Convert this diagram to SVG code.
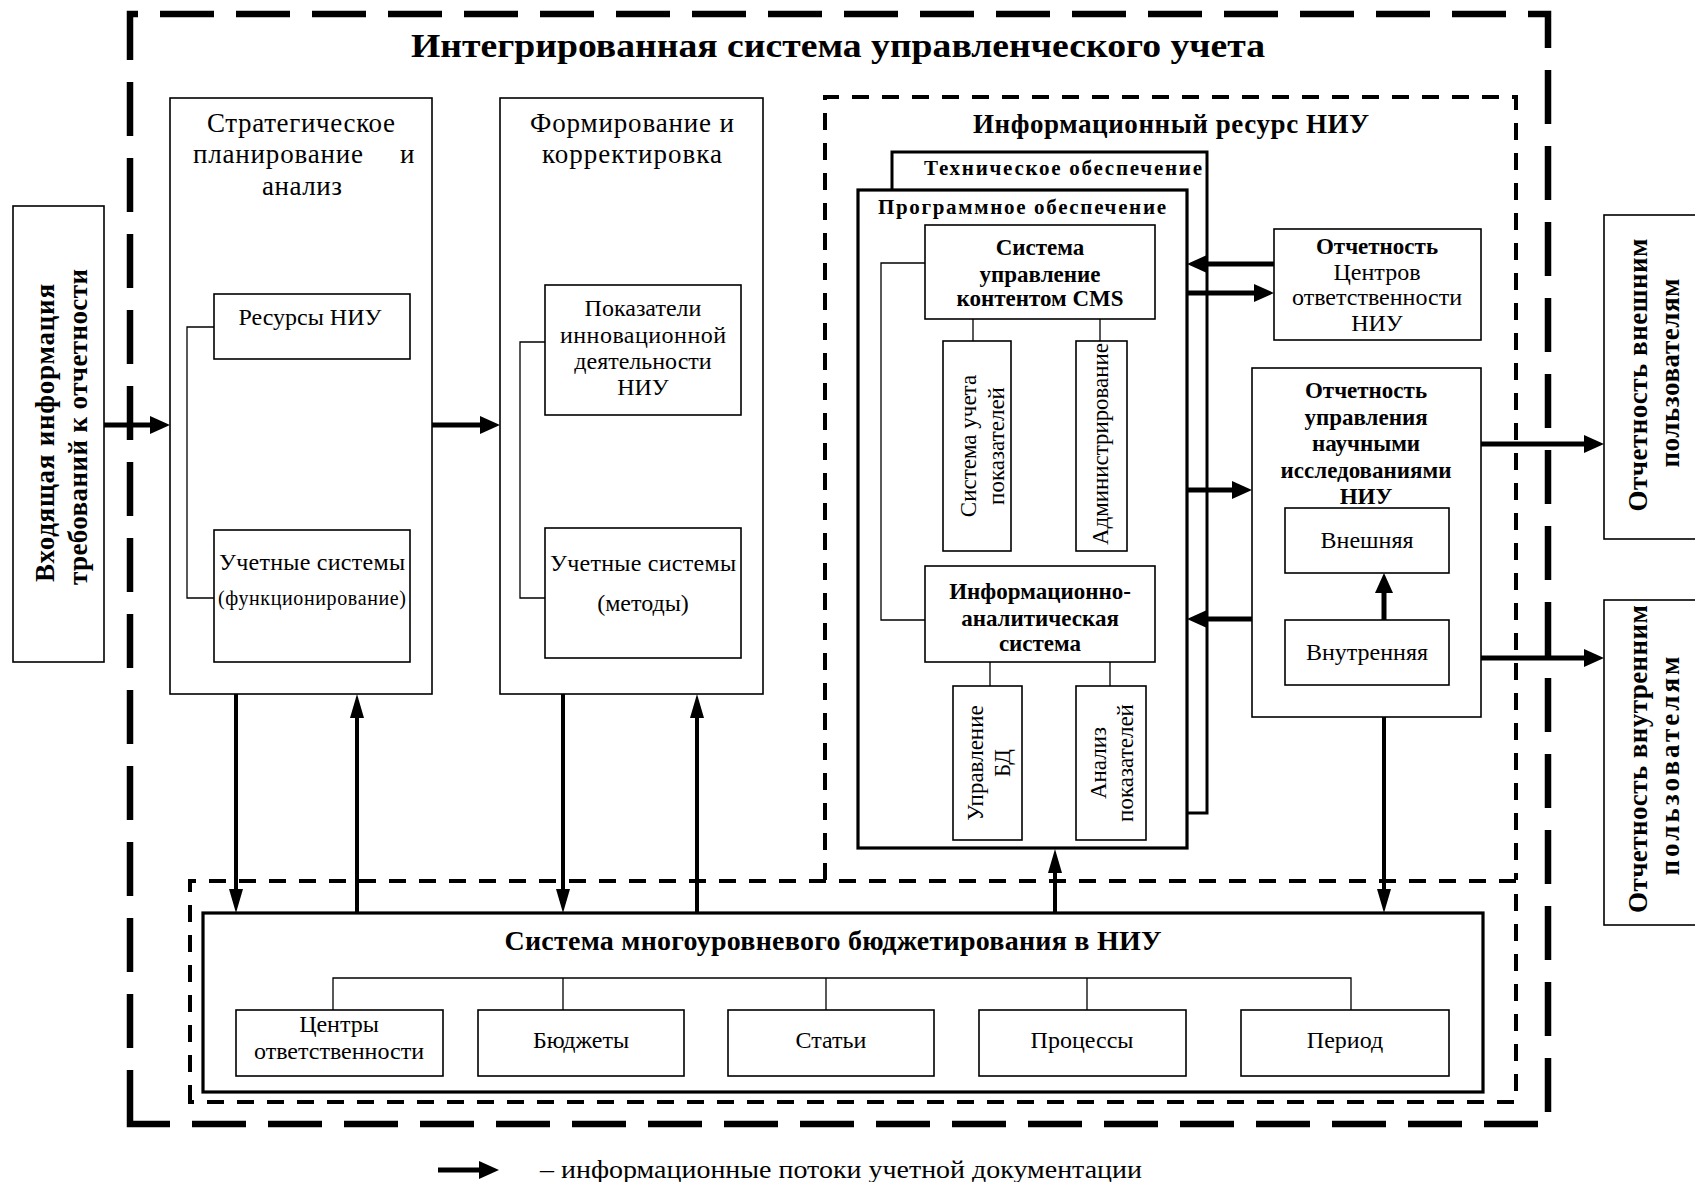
<svg xmlns="http://www.w3.org/2000/svg" width="1695" height="1182" viewBox="0 0 1695 1182">
<style>
text{font-family:"Liberation Serif","Times New Roman",serif;fill:#000}
.r{font-family:"Liberation Serif",serif;font-size:24px}
.t{font-family:"Liberation Serif",serif;font-size:27px}
.v{font-family:"Liberation Serif",serif;font-size:23px}
.b{font-weight:bold;font-size:21px}
.bx{font-weight:bold;font-size:23px}
.bb{font-weight:bold;font-size:27px}
.vb{font-weight:bold;font-size:27px}
.m{text-anchor:middle}
.box{fill:#fff;stroke:#000;stroke-width:1.6}
.thick{fill:none;stroke:#000;stroke-width:3}
.ln{fill:none;stroke:#000;stroke-width:1.3}
.outer{fill:none;stroke:#000;stroke-width:6.5;stroke-dasharray:54 22}
.dash{fill:none;stroke:#000;stroke-width:4;stroke-dasharray:17 13}
.ah{fill:none;stroke:#000;stroke-width:5;marker-end:url(#ah)}
.av{fill:none;stroke:#000;stroke-width:4;marker-end:url(#av)}
</style>
<defs>
<marker id="ah" markerUnits="userSpaceOnUse" markerWidth="20" markerHeight="18" viewBox="0 0 20 18" refX="0" refY="9" orient="auto"><path d="M0,0 L20,9 L0,18 z" fill="#000"/></marker>
<marker id="av" markerUnits="userSpaceOnUse" markerWidth="24" markerHeight="14" viewBox="0 0 24 14" refX="0" refY="7" orient="auto"><path d="M0,0 L24,7 L0,14 z" fill="#000"/></marker>
</defs>
<rect width="1695" height="1182" fill="#fff"/>

<g id="frame-outer">
<path class="outer" d="M130,1124 V14 H1548 V1124 Z"/>
<text x="838" y="57" class="m" style="font-weight:bold;font-size:33px" textLength="854" lengthAdjust="spacingAndGlyphs">Интегрированная система управленческого учета</text>
</g>

<g id="frame-info">
<path class="dash" d="M825,880 V97 H1516 V880"/>
<text x="1171" y="133" class="bb m" textLength="396">Информационный ресурс НИУ</text>
</g>

<g id="frame-budget">
<path class="dash" d="M190,1102 V881 H1516 V1102 Z"/>
</g>

<g id="input">
<rect class="box" x="13" y="206" width="91" height="456"/>
<text class="vb m" transform="translate(54,433) rotate(-90)" textLength="298">Входящая информация</text>
<text class="vb m" transform="translate(87,427) rotate(-90)" textLength="316">требований к отчетности</text>
</g>

<g id="strategic">
<rect class="box" x="170" y="98" width="262" height="596"/>
<text x="301" y="132" class="t m" textLength="188">Стратегическое</text>
<text x="193" y="163" class="t" textLength="170">планирование</text>
<text x="400" y="163" class="t">и</text>
<text x="302" y="195" class="t m" textLength="80">анализ</text>
<path class="ln" d="M214,327 H187 V598 H214"/>
<rect class="box" x="214" y="294" width="196" height="65"/>
<text x="310" y="325" class="r m">Ресурсы НИУ</text>
<rect class="box" x="214" y="530" width="196" height="132"/>
<text x="312" y="570" class="r m" textLength="186">Учетные системы</text>
<text x="312" y="605" class="m" style="font-size:20px" textLength="188">(функционирование)</text>
</g>

<g id="forming">
<rect class="box" x="500" y="98" width="263" height="596"/>
<text x="632" y="132" class="t m" textLength="204">Формирование и</text>
<text x="632" y="163" class="t m" textLength="180">корректировка</text>
<path class="ln" d="M545,342 H520 V598 H545"/>
<rect class="box" x="545" y="285" width="196" height="130"/>
<text x="643" y="316" class="r m">Показатели</text>
<text x="643" y="343" class="r m" textLength="166">инновационной</text>
<text x="643" y="369" class="r m">деятельности</text>
<text x="643" y="395" class="r m">НИУ</text>
<rect class="box" x="545" y="528" width="196" height="130"/>
<text x="643" y="571" class="r m" textLength="186">Учетные системы</text>
<text x="643" y="611" class="r m">(методы)</text>
</g>

<g id="tech">
<path class="thick" d="M892,190 V152 H1207 V813 H1187"/>
<text x="1063" y="175" class="b m" textLength="278">Техническое обеспечение</text>
</g>

<g id="software">
<rect x="858" y="190" width="329" height="658" fill="#fff" stroke="#000" stroke-width="3.2"/>
<text x="1022" y="214" class="b m" textLength="288">Программное обеспечение</text>
<path class="ln" d="M925,263 H881 V620 H925"/>
<path class="ln" d="M973,319 V341 M1100,319 V341 M990,662 V686 M1110,662 V686"/>
</g>

<g id="cms">
<rect class="box" x="925" y="225" width="230" height="94"/>
<text x="1040" y="255" class="bx m">Система</text>
<text x="1040" y="282" class="bx m">управление</text>
<text x="1040" y="306" class="bx m">контентом CMS</text>
</g>

<g id="sys-ucheta">
<rect class="box" x="943" y="341" width="68" height="210"/>
<text class="v m" transform="translate(976,446) rotate(-90)">Система учета</text>
<text class="v m" transform="translate(1004,446) rotate(-90)">показателей</text>
</g>

<g id="admin">
<rect class="box" x="1076" y="341" width="51" height="210"/>
<text class="v m" transform="translate(1108,444) rotate(-90)" textLength="202">Администрирование</text>
</g>

<g id="ias">
<rect class="box" x="925" y="566" width="230" height="96"/>
<text x="1040" y="599" class="bx m">Информационно-</text>
<text x="1040" y="626" class="bx m">аналитическая</text>
<text x="1040" y="651" class="bx m">система</text>
</g>

<g id="upr-bd">
<rect class="box" x="953" y="686" width="69" height="154"/>
<text class="v m" transform="translate(983,763) rotate(-90)">Управление</text>
<text class="v m" transform="translate(1010,763) rotate(-90)">БД</text>
</g>

<g id="analiz">
<rect class="box" x="1076" y="686" width="70" height="154"/>
<text class="v m" transform="translate(1106,763) rotate(-90)">Анализ</text>
<text class="v m" transform="translate(1133,763) rotate(-90)">показателей</text>
</g>

<g id="rep-co">
<rect class="box" x="1274" y="229" width="207" height="111"/>
<text x="1377" y="254" class="bx m">Отчетность</text>
<text x="1377" y="280" class="r m">Центров</text>
<text x="1377" y="305" class="r m">ответственности</text>
<text x="1377" y="331" class="r m">НИУ</text>
</g>

<g id="rep-science">
<rect class="box" x="1252" y="368" width="229" height="349"/>
<text x="1366" y="398" class="bx m">Отчетность</text>
<text x="1366" y="425" class="bx m">управления</text>
<text x="1366" y="451" class="bx m">научными</text>
<text x="1366" y="478" class="bx m">исследованиями</text>
<text x="1366" y="504" class="bx m">НИУ</text>
</g>

<g id="external">
<rect class="box" x="1285" y="508" width="164" height="65"/>
<text x="1367" y="548" class="r m">Внешняя</text>
</g>

<g id="internal">
<rect class="box" x="1285" y="620" width="164" height="65"/>
<text x="1367" y="660" class="r m">Внутренняя</text>
</g>

<g id="users-ext">
<rect class="box" x="1604" y="215" width="100" height="324"/>
<text class="vb m" transform="translate(1647,375) rotate(-90)" textLength="273">Отчетность внешним</text>
<text class="vb m" transform="translate(1679,373) rotate(-90)" textLength="189">пользователям</text>
</g>

<g id="users-int">
<rect class="box" x="1604" y="600" width="100" height="325"/>
<text class="vb m" transform="translate(1647,759) rotate(-90)" textLength="308">Отчетность внутренним</text>
<text class="vb m" transform="translate(1679,766) rotate(-90)" textLength="219">пользователям</text>
</g>

<g id="budget">
<rect x="203" y="913" width="1280" height="179" fill="#fff" stroke="#000" stroke-width="3.2"/>
<text x="833" y="950" class="m" style="font-weight:bold;font-size:28px" textLength="657">Система многоуровневого бюджетирования в НИУ</text>
<path class="ln" d="M333,1010 V978 H1351 V1010 M563,978 V1010 M826,978 V1010 M1087,978 V1010"/>
</g>

<g id="b-centers">
<rect class="box" x="236" y="1010" width="207" height="66"/>
<text x="339" y="1032" class="r m">Центры</text>
<text x="339" y="1059" class="r m">ответственности</text>
</g>
<g id="b-budgets">
<rect class="box" x="478" y="1010" width="206" height="66"/>
<text x="581" y="1048" class="r m">Бюджеты</text>
</g>
<g id="b-articles">
<rect class="box" x="728" y="1010" width="206" height="66"/>
<text x="831" y="1048" class="r m">Статьи</text>
</g>
<g id="b-processes">
<rect class="box" x="979" y="1010" width="207" height="66"/>
<text x="1082" y="1048" class="r m">Процессы</text>
</g>
<g id="b-period">
<rect class="box" x="1241" y="1010" width="208" height="66"/>
<text x="1345" y="1048" class="r m">Период</text>
</g>

<g id="connectors">
<path class="ah" d="M104,425 H150"/>
<path class="ah" d="M432,425 H480"/>
<path class="ah" d="M1274,264 H1207"/>
<path class="ah" d="M1187,293 H1254"/>
<path class="ah" d="M1187,490 H1232"/>
<path class="ah" d="M1252,619 H1207"/>
<path class="ah" d="M1481,444 H1584"/>
<path class="ah" d="M1481,658 H1584"/>
<path class="ah" d="M1384,620 V593"/>
<path class="av" d="M236,694 V889"/>
<path class="av" d="M357,913 V718"/>
<path class="av" d="M563,694 V889"/>
<path class="av" d="M697,913 V718"/>
<path class="av" d="M1055,913 V873"/>
<path class="av" d="M1384,717 V889"/>
</g>

<g id="legend">
<path class="ah" d="M438,1170 H479"/>
<text x="540" y="1178" style="font-size:25px" textLength="602" lengthAdjust="spacingAndGlyphs">– информационные потоки учетной документации</text>
</g>
</svg>
